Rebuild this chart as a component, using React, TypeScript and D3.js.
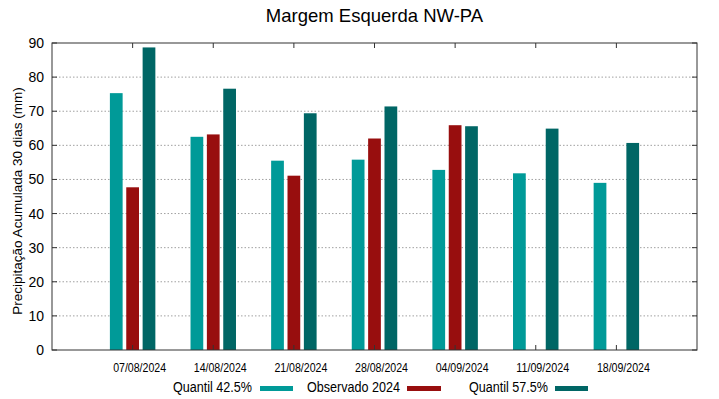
import React from "react";
import * as d3 from "d3";

const categories = ["07/08/2024", "14/08/2024", "21/08/2024", "28/08/2024", "04/09/2024", "11/09/2024", "18/09/2024"];
const quantil425 = [75.3, 62.5, 55.5, 55.8, 52.8, 51.8, 49.0];
const observado2024: (number | null)[] = [47.7, 63.2, 51.1, 62.0, 65.9, null, null];
const quantil575 = [88.7, 76.6, 69.4, 71.4, 65.6, 64.9, 60.7];
const yTicks = [0, 10, 20, 30, 40, 50, 60, 70, 80, 90];
const seriesNames = ["Quantil 42.5%", "Observado 2024", "Quantil 57.5%"];
const colors = ["#009a98", "#980e0e", "#006665"];

const W = 719, H = 399;
const L = 52, R = 697, T = 43, B = 350;
const FONT = "'Liberation Sans', Arial, sans-serif";

export default function App() {
  const x = d3.scaleLinear().domain([-1, categories.length]).range([L, R]);
  const y = d3.scaleLinear().domain([0, 90]).range([B, T]);
  const unit = x(1) - x(0);
  const offset = 0.203 * unit;
  const bw = 0.158 * unit;
  const series = [quantil425, observado2024, quantil575];
  const legendItems = [
    { t0: 173, t1: 252, x0: 260, x1: 293 },
    { t0: 307, t1: 400, x0: 407, x1: 441 },
    { t0: 469, t1: 548, x0: 555, x1: 588 },
  ];
  return (
    <svg width={W} height={H} style={{ position: "absolute", left: 0, top: 0, background: "#fff" }}>
      <rect x={0} y={0} width={W} height={H} fill="#fff" />
      <text x={374.5} y={22} textAnchor="middle" fontFamily={FONT} fontSize={18.5} fill="#000">
        Margem Esquerda NW-PA
      </text>
      {yTicks.slice(1, -1).map((t) => (
        <line key={"g" + t} x1={L} x2={R} y1={y(t)} y2={y(t)} stroke="#a0a0a0" strokeWidth={1} strokeDasharray="1.5,2" />
      ))}
      {series.map((s, si) =>
        s.map((v, i) =>
          v == null ? null : (
            <rect
              key={si + "-" + i}
              x={x(i) + (si - 1) * offset - bw / 2}
              y={y(v)}
              width={bw}
              height={y(0) - y(v)}
              fill={colors[si]}
            />
          )
        )
      )}
      {yTicks.map((t) => (
        <g key={"yt" + t}>
          <line x1={L} x2={L + 5} y1={y(t)} y2={y(t)} stroke="#333" />
          <line x1={R - 5} x2={R} y1={y(t)} y2={y(t)} stroke="#333" />
          <text x={L - 8} y={y(t) + 5} textAnchor="end" fontFamily={FONT} fontSize={14} fill="#000">
            {t}
          </text>
        </g>
      ))}
      {categories.map((c, i) => (
        <g key={"xt" + i}>
          <line x1={x(i)} x2={x(i)} y1={T} y2={T + 5} stroke="#333" />
          <line x1={x(i)} x2={x(i)} y1={B} y2={B - 5} stroke="#333" />
          <text
            x={x(i) + 7 - 26.5}
            y={372}
            fontFamily={FONT}
            fontSize={12}
            textLength={53}
            lengthAdjust="spacingAndGlyphs"
            fill="#000"
          >
            {c}
          </text>
        </g>
      ))}
      <rect x={L} y={T} width={R - L} height={B - T} fill="none" stroke="#333" strokeWidth={1} />
      <text
        transform={`translate(21.5,201) rotate(-90)`}
        textAnchor="middle"
        fontFamily={FONT}
        fontSize={13.5}
        fill="#000"
      >
        Precipitação Acumulada 30 dias (mm)
      </text>
      {legendItems.map((it, i) => (
        <g key={"lg" + i}>
          <text
            x={it.t0}
            y={391.5}
            fontFamily={FONT}
            fontSize={14}
            textLength={it.t1 - it.t0}
            lengthAdjust="spacingAndGlyphs"
            fill="#000"
          >
            {seriesNames[i]}
          </text>
          <rect x={it.x0} y={386} width={it.x1 - it.x0} height={5} fill={colors[i]} />
        </g>
      ))}
    </svg>
  );
}
